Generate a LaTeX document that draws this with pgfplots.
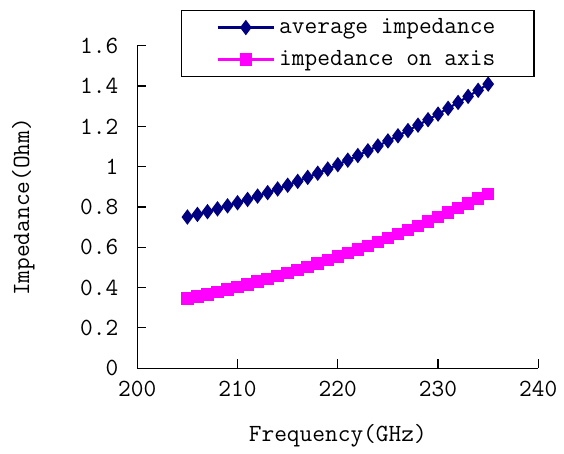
\documentclass[border=0pt]{standalone}
\usepackage{pgfplots}
\pgfplotsset{compat=1.18}
\usetikzlibrary{calc}
\definecolor{navyc}{RGB}{0,0,128}
\definecolor{magc}{RGB}{255,0,255}
\newcommand{\lfont}{\ttfamily\fontsize{12.4}{14}\selectfont}
\begin{document}
\begin{tikzpicture}
\begin{axis}[
  name=ax,
  scale only axis,
  width=201.5pt, height=162pt,
  xmin=200, xmax=240, ymin=0, ymax=1.6,
  xtick={200,210,220,230,240},
  ytick={0,0.2,0.4,0.6,0.8,1,1.2,1.4,1.6},
  yticklabels={0,0.2,0.4,0.6,0.8,1,1.2,1.4,1.6},
  axis x line*=bottom, axis y line*=left,
  axis line style={line width=0.6pt},
  tick align=inside,
  major tick length=4.5pt,
  tick style={black, line width=0.6pt},
  /pgf/number format/assume math mode=true,
  tick label style={font=\lfont},
  yticklabel style={xshift=-6pt},
  xticklabel style={yshift=-3pt},
  label style={font=\lfont},
  xlabel={Frequency(GHz)},
  ylabel={Impedance(Ohm)},
  xlabel style={yshift=-7pt},
  ylabel style={yshift=16pt},
  legend style={at={(0.109,1.111)}, anchor=north west, draw=black, line width=0.6pt,
    font=\lfont, inner xsep=17.5pt, inner ysep=2pt,
    row sep=3pt},
  legend cell align=left,
  legend image code/.code={\draw[mark repeat=2,mark phase=2] plot coordinates {(0cm,0cm) (0.5cm,0cm) (1cm,0cm)};},
]
\addplot[navyc, line width=1.1pt, mark=diamond*, mark size=3pt, mark options={solid}] coordinates {
(205,0.7500) (206,0.7630) (207,0.7766) (208,0.7908) (209,0.8056) (210,0.8211)
(211,0.8372) (212,0.8539) (213,0.8712) (214,0.8892) (215,0.9078) (216,0.9270)
(217,0.9468) (218,0.9672) (219,0.9883) (220,1.0100) (221,1.0323) (222,1.0552)
(223,1.0788) (224,1.1029) (225,1.1277) (226,1.1532) (227,1.1792) (228,1.2059)
(229,1.2331) (230,1.2610) (231,1.2896) (232,1.3187) (233,1.3485) (234,1.3789)
(235,1.4099)};
\addlegendentry{average impedance}
\addplot[magc, line width=1.1pt, mark=square*, mark size=2.6pt, mark options={solid}] coordinates {
(205,0.3450) (206,0.3556) (207,0.3667) (208,0.3783) (209,0.3903) (210,0.4028)
(211,0.4157) (212,0.4291) (213,0.4430) (214,0.4573) (215,0.4721) (216,0.4874)
(217,0.5031) (218,0.5193) (219,0.5359) (220,0.5530) (221,0.5706) (222,0.5886)
(223,0.6071) (224,0.6260) (225,0.6454) (226,0.6653) (227,0.6857) (228,0.7065)
(229,0.7277) (230,0.7494) (231,0.7716) (232,0.7943) (233,0.8174) (234,0.8410)
(235,0.8650)};
\addlegendentry{impedance on axis}
\end{axis}
\path ($(ax.south west)+(-69pt,-40pt)$) rectangle ($(ax.north east)+(11.5pt,23pt)$);
\end{tikzpicture}
\end{document}
